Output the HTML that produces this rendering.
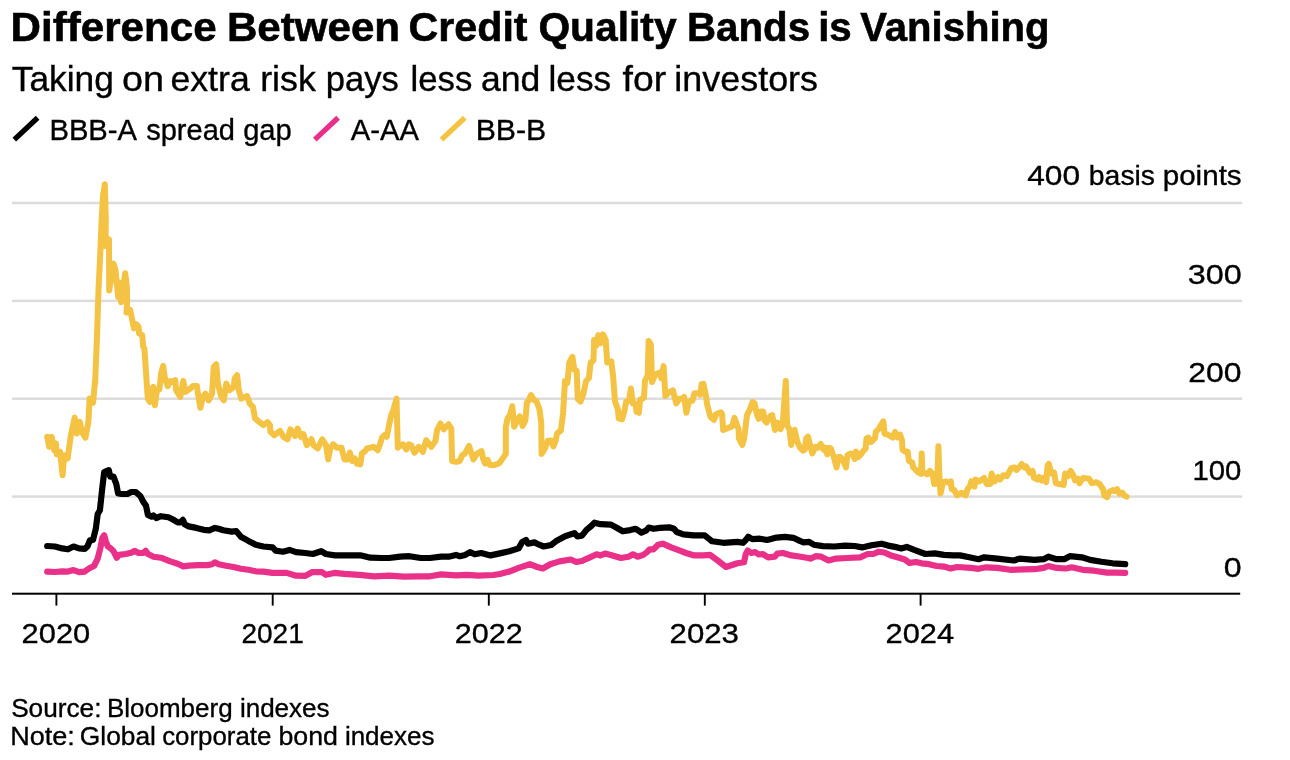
<!DOCTYPE html>
<html lang="en"><head><meta charset="utf-8"><title>Difference Between Credit Quality Bands is Vanishing</title>
<style>
html,body{margin:0;padding:0;background:#fff;}
body{width:1290px;height:760px;position:relative;overflow:hidden;font-family:"Liberation Sans",Arial,Helvetica,sans-serif;}
</style></head><body>
<svg width="1290" height="760" viewBox="0 0 1290 760" style="position:absolute;left:0;top:0">
<rect x="12" y="201.75" width="1230.2" height="2.5" fill="#dcdcdc"/>
<rect x="12" y="299.65" width="1230.2" height="2.5" fill="#dcdcdc"/>
<rect x="12" y="397.45" width="1230.2" height="2.5" fill="#dcdcdc"/>
<rect x="12" y="495.35" width="1230.2" height="2.5" fill="#dcdcdc"/>
<path d="M47.2 436.8 L49.2 446.8 L51.7 436.8 L54.2 450.2 L55.9 443.5 L56.7 454.3 L60.0 451.8 L62.6 475.2 L64.2 455.2 L67.6 458.5 L70.9 435.1 L74.7 417.6 L76.8 433.5 L79.8 421.8 L81.8 431.8 L85.4 437.6 L88.4 421.8 L89.6 398.4 L93.1 402.6 L95.1 380.0 L95.1 383.6 L96.8 341.8 L98.5 290.0 L100.5 248.5 L101.6 220.1 L102.1 211.8 L103.1 195.1 L104.8 184.2 L105.8 220.1 L105.5 246.0 L109.0 239.3 L109.2 290.6 L113.5 263.6 L115.5 270.2 L118.2 297.0 L119.7 282.8 L121.2 302.3 L123.5 285.3 L125.2 273.2 L126.9 286.9 L127.2 300.0 L126.5 312.6 L130.2 310.0 L131.9 318.4 L133.9 328.4 L136.1 324.2 L138.6 326.8 L139.1 333.4 L142.2 335.1 L143.2 346.8 L144.4 348.5 L146.1 373.5 L147.8 398.6 L149.9 401.9 L151.6 390.2 L153.3 386.9 L154.9 405.3 L156.9 390.2 L159.4 389.4 L161.1 373.5 L163.1 366.0 L165.0 378.5 L167.8 386.1 L170.3 381.0 L172.8 381.9 L175.3 380.2 L176.1 390.2 L180.3 396.9 L183.3 381.0 L185.3 391.9 L190.3 388.6 L192.9 386.1 L197.0 386.1 L197.9 393.6 L200.4 407.8 L202.9 396.9 L205.4 393.6 L208.7 400.3 L212.1 393.6 L213.7 366.8 L216.2 364.3 L217.9 383.6 L221.3 396.9 L223.8 400.3 L226.3 383.6 L229.6 390.2 L233.8 386.9 L234.6 378.5 L237.1 375.2 L238.8 390.2 L241.3 398.6 L247.1 396.1 L249.7 403.6 L253.0 406.9 L253.3 408.4 L255.0 418.4 L259.2 421.8 L263.4 425.1 L267.5 422.1 L270.0 425.1 L270.4 431.8 L274.2 435.2 L280.1 431.0 L283.4 436.8 L287.6 439.3 L290.4 429.3 L295.1 436.0 L297.6 428.5 L301.0 436.8 L303.5 434.3 L306.8 445.2 L311.5 439.3 L313.5 445.2 L317.7 448.5 L322.2 439.3 L326.0 445.2 L328.2 459.4 L330.2 448.5 L333.2 444.3 L336.9 447.7 L341.5 447.7 L344.4 459.4 L347.7 459.4 L349.9 452.7 L352.2 461.0 L354.9 458.5 L356.9 463.6 L360.3 464.4 L361.9 453.5 L365.3 451.0 L366.9 448.5 L373.6 446.8 L377.8 450.2 L380.3 443.5 L382.0 437.7 L384.5 435.2 L386.7 436.8 L388.7 426.8 L391.2 415.1 L393.3 410.1 L396.5 398.7 L397.8 447.7 L401.2 445.2 L402.9 444.3 L406.2 449.4 L408.7 444.3 L411.2 445.2 L414.5 452.7 L418.7 446.8 L422.9 451.9 L426.2 440.2 L428.7 443.5 L431.3 446.8 L435.4 441.0 L437.1 430.1 L440.4 423.5 L443.8 429.3 L448.5 424.3 L451.3 428.5 L452.1 461.0 L456.3 461.9 L459.7 461.0 L462.2 455.2 L464.7 453.9 L469.0 446.0 L471.6 453.9 L473.4 459.5 L476.8 453.9 L481.5 451.1 L483.3 459.5 L485.2 463.6 L487.6 459.8 L489.9 465.1 L494.6 465.1 L499.2 463.2 L503.9 456.7 L505.8 453.9 L505.8 426.8 L507.6 418.4 L510.1 414.6 L512.3 406.2 L514.2 426.8 L517.0 420.3 L519.8 416.5 L522.6 425.9 L525.4 420.3 L526.9 402.5 L528.7 400.6 L531.0 395.0 L533.8 399.7 L536.6 401.6 L539.4 409.0 L541.2 422.1 L541.6 453.9 L545.0 448.3 L547.8 440.8 L551.1 440.4 L553.4 446.4 L555.6 440.8 L557.1 433.3 L560.9 430.5 L563.1 412.8 L565.0 381.0 L567.4 382.9 L569.3 362.4 L572.4 356.8 L574.3 369.8 L576.7 370.8 L577.7 398.8 L580.5 401.6 L583.3 394.1 L586.1 381.0 L588.9 378.2 L590.7 362.4 L593.5 360.5 L594.1 339.9 L596.0 345.9 L598.2 335.3 L600.5 343.3 L602.9 334.3 L605.7 339.9 L607.2 362.4 L611.3 361.4 L613.2 377.3 L615.0 401.6 L617.8 409.0 L618.8 418.4 L622.1 419.3 L624.4 410.9 L626.2 401.6 L629.0 400.6 L630.9 388.5 L632.8 403.4 L635.6 403.4 L636.5 411.8 L638.9 412.8 L640.2 399.7 L644.0 397.8 L644.9 381.0 L647.7 375.4 L648.6 340.9 L650.9 344.6 L652.0 382.0 L655.2 374.5 L659.8 372.6 L661.3 378.2 L663.6 366.1 L665.4 396.0 L669.2 392.2 L672.9 390.4 L676.3 403.4 L679.5 398.8 L682.3 398.8 L684.1 396.9 L686.4 412.8 L688.8 401.6 L692.5 400.6 L694.4 393.2 L698.1 393.2 L700.3 394.6 L701.6 384.3 L703.4 383.9 L705.9 395.5 L707.2 404.8 L710.5 417.0 L713.9 419.8 L716.1 414.2 L720.8 412.3 L722.1 414.2 L723.2 430.0 L727.4 428.2 L730.2 427.2 L732.0 426.3 L734.5 417.9 L736.7 424.4 L738.6 429.1 L738.9 438.4 L742.3 445.0 L744.2 438.4 L747.0 415.1 L749.8 409.5 L752.6 402.0 L754.4 403.0 L756.9 414.2 L758.7 418.8 L760.6 411.4 L763.2 411.4 L764.7 420.7 L766.6 422.6 L770.3 416.0 L772.2 415.1 L775.0 430.0 L777.4 422.6 L780.6 429.1 L782.8 422.6 L785.8 380.9 L787.1 425.4 L789.4 429.1 L791.2 445.0 L793.1 431.0 L794.6 430.0 L797.4 442.2 L800.2 447.8 L803.0 450.6 L804.9 449.6 L806.2 438.4 L808.0 436.6 L810.5 446.8 L812.3 453.4 L815.5 446.8 L817.9 447.8 L820.7 444.0 L823.5 449.6 L825.4 447.8 L827.3 454.3 L829.1 447.8 L831.0 448.7 L833.8 457.1 L836.6 467.4 L838.5 457.1 L840.4 457.1 L843.2 460.9 L846.0 467.4 L847.3 455.3 L850.6 453.4 L852.5 454.3 L854.7 459.0 L855.9 451.5 L858.1 457.1 L860.9 454.3 L862.8 451.5 L865.6 448.7 L866.5 438.4 L868.4 437.5 L870.8 442.2 L874.9 438.4 L875.8 431.9 L878.6 429.1 L881.4 424.4 L883.3 421.3 L884.6 433.8 L888.0 434.7 L892.6 437.5 L895.1 431.9 L897.3 437.5 L900.1 434.7 L902.0 440.3 L902.5 449.6 L904.8 451.5 L907.6 451.5 L908.9 460.9 L912.3 462.7 L913.2 467.4 L915.0 469.1 L918.5 472.6 L921.1 473.8 L921.7 453.4 L922.4 471.7 L924.1 472.8 L927.2 474.4 L929.9 470.9 L932.5 473.5 L934.2 484.0 L937.2 483.6 L938.4 446.2 L939.3 473.5 L940.5 493.6 L943.0 482.2 L946.5 481.4 L949.1 483.1 L950.9 481.4 L951.7 489.2 L954.4 490.1 L957.0 495.4 L961.4 492.7 L965.7 495.4 L967.5 489.2 L970.1 485.7 L971.3 481.4 L973.6 482.2 L974.5 486.6 L975.4 479.6 L978.9 481.4 L984.1 477.9 L986.7 484.0 L990.2 484.0 L991.6 473.5 L994.6 481.4 L998.1 477.0 L999.9 479.6 L1003.4 475.2 L1006.9 476.1 L1011.2 468.2 L1014.7 467.4 L1016.5 470.0 L1020.0 466.5 L1021.7 463.9 L1024.4 467.4 L1026.1 466.5 L1029.6 472.6 L1032.6 470.9 L1034.0 477.9 L1037.5 479.6 L1039.2 477.0 L1041.8 480.5 L1043.6 477.9 L1046.2 482.2 L1047.6 465.6 L1048.8 463.9 L1051.5 473.5 L1054.1 472.6 L1055.8 483.1 L1058.5 484.0 L1063.7 484.9 L1065.1 473.5 L1068.1 476.1 L1070.7 470.9 L1073.3 475.2 L1075.1 480.5 L1077.7 478.7 L1079.5 483.1 L1083.0 477.9 L1089.1 478.7 L1091.7 483.1 L1096.1 482.2 L1099.6 484.0 L1103.1 489.2 L1104.3 495.4 L1107.1 497.1 L1109.2 491.9 L1112.7 490.1 L1114.5 491.0 L1117.1 489.2 L1119.4 493.6 L1122.3 492.7 L1124.1 495.4 L1126.7 496.6" fill="none" stroke="#f5c343" stroke-width="6" stroke-linejoin="round" stroke-linecap="round"/>
<path d="M47.2 571.6 L54.9 572.0 L62.3 571.3 L67.9 571.6 L73.5 570.1 L79.1 572.2 L84.7 571.6 L89.3 568.3 L94.0 566.0 L97.7 558.6 L100.5 547.4 L102.3 538.1 L104.2 535.3 L106.0 541.9 L107.9 546.5 L110.7 548.4 L113.5 551.2 L116.7 557.7 L119.1 554.9 L125.6 554.0 L131.2 552.7 L134.9 550.8 L138.6 553.0 L143.3 553.0 L145.7 550.8 L147.9 554.0 L153.5 556.7 L160.9 557.7 L170.2 561.4 L177.7 563.8 L183.3 566.4 L188.8 565.7 L198.1 565.1 L207.4 565.1 L212.1 564.2 L214.9 562.3 L218.6 564.2 L226.0 565.7 L233.5 567.0 L240.9 568.8 L248.4 569.8 L255.8 571.3 L263.3 571.6 L272.6 572.9 L279.3 572.9 L286.7 572.9 L296.0 575.7 L305.3 575.9 L311.9 572.2 L322.1 572.2 L325.8 574.8 L334.2 572.9 L344.4 573.9 L359.3 574.8 L374.2 576.3 L389.1 575.7 L404.0 576.7 L418.8 576.3 L430.0 576.3 L441.2 574.4 L456.0 575.3 L467.2 574.8 L478.4 575.7 L493.3 575.0 L499.8 574.0 L509.3 571.6 L518.6 567.9 L529.8 564.2 L537.2 567.0 L542.8 568.5 L550.2 564.2 L559.5 561.4 L570.7 559.5 L576.3 562.0 L581.9 561.0 L589.3 557.7 L596.7 554.3 L600.5 555.4 L605.1 553.6 L611.6 555.3 L620.9 558.0 L628.4 556.7 L633.0 554.3 L637.7 556.7 L643.3 554.9 L647.0 552.1 L649.8 549.3 L653.5 549.3 L658.1 544.7 L662.8 543.7 L671.2 547.4 L678.6 550.2 L686.0 553.0 L693.5 555.3 L702.8 555.3 L710.2 554.9 L717.7 560.5 L726.0 567.0 L737.4 563.3 L744.0 562.3 L745.8 554.0 L747.7 550.6 L751.4 553.0 L755.1 552.1 L758.8 554.5 L762.6 554.0 L768.1 557.3 L774.7 556.7 L777.4 553.6 L783.0 553.0 L791.4 555.4 L800.7 556.7 L808.1 558.0 L810.9 558.6 L815.6 556.2 L821.2 556.7 L828.6 560.5 L836.0 558.6 L847.2 558.0 L860.2 557.3 L867.7 554.0 L873.3 554.0 L878.8 551.7 L884.4 552.5 L891.9 555.8 L897.4 557.3 L904.9 559.5 L909.5 562.9 L916.0 562.0 L921.6 563.3 L929.1 564.2 L936.5 566.0 L944.0 566.6 L950.5 568.5 L957.0 567.0 L971.2 567.9 L978.6 568.8 L986.0 567.3 L997.2 567.9 L1010.2 569.8 L1023.3 569.4 L1034.4 569.2 L1043.7 567.9 L1048.4 566.0 L1056.7 567.9 L1066.0 568.5 L1071.6 567.3 L1082.8 569.8 L1094.0 570.7 L1107.0 572.6 L1116.3 572.6 L1125.2 572.9" fill="none" stroke="#e9318a" stroke-width="6.2" stroke-linejoin="round" stroke-linecap="round"/>
<path d="M47.2 546.0 L54.9 546.5 L62.3 548.4 L67.9 549.3 L73.5 546.5 L79.1 548.4 L84.7 548.9 L87.4 546.5 L89.9 540.4 L93.0 540.0 L95.8 528.8 L97.7 514.0 L99.9 510.2 L102.3 487.9 L104.2 472.1 L108.8 470.2 L110.3 476.7 L113.5 476.7 L116.3 484.2 L118.1 493.5 L121.9 494.0 L127.4 493.9 L131.2 492.0 L135.8 492.0 L140.5 496.3 L143.3 501.9 L146.0 505.6 L147.9 514.9 L151.6 516.7 L153.5 515.4 L156.3 518.0 L160.9 516.2 L168.4 517.3 L173.0 519.5 L177.7 522.3 L180.5 522.3 L182.9 519.9 L184.7 524.2 L188.8 526.4 L196.3 527.9 L203.7 529.8 L209.3 530.3 L214.9 527.9 L218.6 528.8 L223.3 530.3 L231.6 531.6 L236.3 531.1 L240.9 536.7 L248.4 540.9 L255.8 544.7 L263.3 546.5 L272.6 547.4 L275.6 550.6 L283.0 551.7 L289.5 549.9 L296.0 552.1 L305.3 553.0 L312.8 554.0 L321.2 551.2 L325.8 554.0 L335.1 555.4 L348.1 555.4 L361.2 555.4 L370.5 557.7 L381.6 558.0 L389.1 558.0 L400.2 556.7 L409.5 556.2 L420.7 558.0 L430.0 558.0 L441.2 556.7 L448.6 556.7 L456.0 554.9 L459.8 556.2 L465.3 554.9 L470.0 552.1 L474.7 554.3 L481.2 553.0 L490.5 555.4 L498.8 553.6 L509.3 551.2 L518.6 548.4 L522.3 541.9 L526.0 540.0 L527.9 543.7 L534.4 542.4 L539.1 544.7 L543.7 546.5 L551.2 545.0 L555.8 541.3 L565.1 536.3 L574.4 533.1 L577.2 536.3 L581.9 535.7 L586.5 529.8 L591.2 526.0 L594.5 522.7 L600.5 524.2 L610.7 524.6 L615.3 527.0 L622.8 531.3 L630.2 530.1 L635.8 528.8 L641.4 532.6 L646.0 530.7 L648.8 527.5 L653.5 528.8 L660.0 527.9 L669.3 527.3 L674.0 528.8 L676.7 532.0 L683.3 534.4 L693.5 535.3 L704.7 535.3 L712.1 541.3 L723.3 542.8 L737.4 541.9 L743.0 542.8 L745.8 540.0 L748.2 536.8 L752.3 539.1 L759.8 538.7 L767.2 540.0 L776.5 537.6 L784.9 536.8 L793.3 537.8 L799.8 540.9 L803.5 542.4 L809.1 541.9 L813.7 544.7 L823.0 546.1 L834.2 546.5 L845.3 545.6 L854.7 546.0 L862.1 547.4 L871.4 545.2 L881.6 543.7 L888.1 545.6 L897.4 547.4 L901.2 548.4 L906.7 546.9 L914.2 549.9 L925.3 554.0 L934.7 553.4 L944.0 554.9 L953.3 555.4 L960.0 555.4 L969.3 557.3 L978.6 559.2 L984.2 557.3 L997.2 558.6 L1014.0 560.5 L1019.5 558.6 L1034.4 559.9 L1043.7 559.2 L1048.4 556.7 L1056.7 559.2 L1064.2 559.2 L1069.8 556.2 L1081.9 557.3 L1090.2 559.9 L1101.4 561.8 L1112.6 563.3 L1125.2 564.2" fill="none" stroke="#000" stroke-width="6.2" stroke-linejoin="round" stroke-linecap="round"/>
<rect x="12" y="592.7" width="1228.2" height="2" fill="#000"/>
<rect x="55.45" y="594" width="1.9" height="11.6" fill="#000"/>
<rect x="271.75" y="594" width="1.9" height="11.6" fill="#000"/>
<rect x="487.85" y="594" width="1.9" height="11.6" fill="#000"/>
<rect x="703.85" y="594" width="1.9" height="11.6" fill="#000"/>
<rect x="919.65" y="594" width="1.9" height="11.6" fill="#000"/>
<line x1="14.3" y1="139.6" x2="37.6" y2="117.7" stroke="#000" stroke-width="5.3"/>
<line x1="314.8" y1="139.6" x2="338.1" y2="117.7" stroke="#e8308a" stroke-width="5.3"/>
<line x1="441.5" y1="139.6" x2="464.8" y2="117.7" stroke="#f5c242" stroke-width="5.3"/>
<g font-family="&quot;Liberation Sans&quot;, Arial, Helvetica, sans-serif" fill="#000">
<text y="41.0" font-size="41.5" font-weight="bold" stroke="#000" stroke-width="0.6"><tspan id="title_0" x="10.55" textLength="206.04" lengthAdjust="spacingAndGlyphs">Difference</tspan> <tspan id="title_1" x="226.98" textLength="173.12" lengthAdjust="spacingAndGlyphs">Between</tspan> <tspan id="title_2" x="408.52" textLength="119.07" lengthAdjust="spacingAndGlyphs">Credit</tspan> <tspan id="title_3" x="538.40" textLength="138.24" lengthAdjust="spacingAndGlyphs">Quality</tspan> <tspan id="title_4" x="686.92" textLength="123.14" lengthAdjust="spacingAndGlyphs">Bands</tspan> <tspan id="title_5" x="818.17" textLength="33.62" lengthAdjust="spacingAndGlyphs">is</tspan> <tspan id="title_6" x="860.25" textLength="189.33" lengthAdjust="spacingAndGlyphs">Vanishing</tspan></text>
<text y="90.6" font-size="35" font-weight="normal" stroke="#000" stroke-width="0.35"><tspan id="sub_0" x="11.74" textLength="102.08" lengthAdjust="spacingAndGlyphs">Taking</tspan> <tspan id="sub_1" x="121.95" textLength="41.97" lengthAdjust="spacingAndGlyphs">on</tspan> <tspan id="sub_2" x="170.43" textLength="79.31" lengthAdjust="spacingAndGlyphs">extra</tspan> <tspan id="sub_3" x="260.16" textLength="55.74" lengthAdjust="spacingAndGlyphs">risk</tspan> <tspan id="sub_4" x="325.79" textLength="73.10" lengthAdjust="spacingAndGlyphs">pays</tspan> <tspan id="sub_5" x="410.45" textLength="61.83" lengthAdjust="spacingAndGlyphs">less</tspan> <tspan id="sub_6" x="480.94" textLength="59.36" lengthAdjust="spacingAndGlyphs">and</tspan> <tspan id="sub_7" x="548.54" textLength="62.70" lengthAdjust="spacingAndGlyphs">less</tspan> <tspan id="sub_8" x="622.55" textLength="43.63" lengthAdjust="spacingAndGlyphs">for</tspan> <tspan id="sub_9" x="674.38" textLength="143.63" lengthAdjust="spacingAndGlyphs">investors</tspan></text>
<text y="139.7" font-size="29.6" font-weight="normal" stroke="#000" stroke-width="0.35"><tspan id="leg1_0" x="49.42" textLength="86.06" lengthAdjust="spacingAndGlyphs">BBB-A</tspan> <tspan id="leg1_1" x="146.18" textLength="88.82" lengthAdjust="spacingAndGlyphs">spread</tspan> <tspan id="leg1_2" x="243.15" textLength="48.68" lengthAdjust="spacingAndGlyphs">gap</tspan></text>
<text y="139.7" font-size="29.6" font-weight="normal" stroke="#000" stroke-width="0.35"><tspan id="leg2_0" x="350.85" textLength="68.20" lengthAdjust="spacingAndGlyphs">A-AA</tspan></text>
<text y="139.7" font-size="29.6" font-weight="normal" stroke="#000" stroke-width="0.35"><tspan id="leg3_0" x="475.67" textLength="70.65" lengthAdjust="spacingAndGlyphs">BB-B</tspan></text>
<text y="185.2" font-size="28" font-weight="normal" stroke="#000" stroke-width="0.35"><tspan id="y400_0" x="1027.21" textLength="52.82" lengthAdjust="spacingAndGlyphs">400</tspan> <tspan id="y400_1" x="1088.83" textLength="66.23" lengthAdjust="spacingAndGlyphs">basis</tspan> <tspan id="y400_2" x="1162.70" textLength="78.98" lengthAdjust="spacingAndGlyphs">points</tspan></text>
<text y="283.6" font-size="28" font-weight="normal" stroke="#000" stroke-width="0.35"><tspan id="y300_0" x="1187.71" textLength="53.93" lengthAdjust="spacingAndGlyphs">300</tspan></text>
<text y="381.5" font-size="28" font-weight="normal" stroke="#000" stroke-width="0.35"><tspan id="y200_0" x="1188.19" textLength="53.19" lengthAdjust="spacingAndGlyphs">200</tspan></text>
<text y="479.5" font-size="28" font-weight="normal" stroke="#000" stroke-width="0.35"><tspan id="y100_0" x="1192.49" textLength="48.91" lengthAdjust="spacingAndGlyphs">100</tspan></text>
<text y="577.0" font-size="28" font-weight="normal" stroke="#000" stroke-width="0.35"><tspan id="y0_0" x="1223.73" textLength="17.84" lengthAdjust="spacingAndGlyphs">0</tspan></text>
<text y="643.3" font-size="28" font-weight="normal" stroke="#000" stroke-width="0.35"><tspan id="x2020_0" x="21.61" textLength="68.56" lengthAdjust="spacingAndGlyphs">2020</tspan></text>
<text y="643.3" font-size="28" font-weight="normal" stroke="#000" stroke-width="0.35"><tspan id="x2021_0" x="241.46" textLength="62.29" lengthAdjust="spacingAndGlyphs">2021</tspan></text>
<text y="643.3" font-size="28" font-weight="normal" stroke="#000" stroke-width="0.35"><tspan id="x2022_0" x="454.68" textLength="67.95" lengthAdjust="spacingAndGlyphs">2022</tspan></text>
<text y="643.3" font-size="28" font-weight="normal" stroke="#000" stroke-width="0.35"><tspan id="x2023_0" x="669.55" textLength="69.38" lengthAdjust="spacingAndGlyphs">2023</tspan></text>
<text y="643.3" font-size="28" font-weight="normal" stroke="#000" stroke-width="0.35"><tspan id="x2024_0" x="885.62" textLength="68.52" lengthAdjust="spacingAndGlyphs">2024</tspan></text>
<text y="717.1" font-size="26.3" font-weight="normal" stroke="#000" stroke-width="0.35"><tspan id="src_0" x="11.14" textLength="90.36" lengthAdjust="spacingAndGlyphs">Source:</tspan> <tspan id="src_1" x="106.92" textLength="125.71" lengthAdjust="spacingAndGlyphs">Bloomberg</tspan> <tspan id="src_2" x="239.89" textLength="89.73" lengthAdjust="spacingAndGlyphs">indexes</tspan></text>
<text y="745.0" font-size="26.3" font-weight="normal" stroke="#000" stroke-width="0.35"><tspan id="note_0" x="10.20" textLength="64.65" lengthAdjust="spacingAndGlyphs">Note:</tspan> <tspan id="note_1" x="79.80" textLength="76.13" lengthAdjust="spacingAndGlyphs">Global</tspan> <tspan id="note_2" x="162.15" textLength="109.27" lengthAdjust="spacingAndGlyphs">corporate</tspan> <tspan id="note_3" x="278.45" textLength="59.57" lengthAdjust="spacingAndGlyphs">bond</tspan> <tspan id="note_4" x="344.89" textLength="89.55" lengthAdjust="spacingAndGlyphs">indexes</tspan></text>
</g>
</svg>
</body></html>
